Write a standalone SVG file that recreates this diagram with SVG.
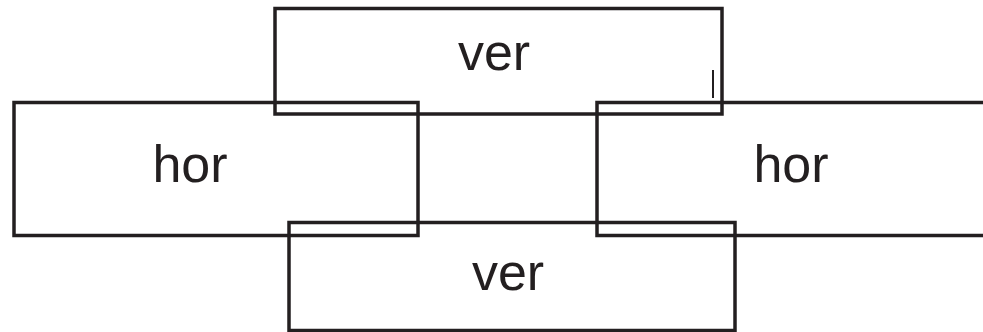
<svg xmlns="http://www.w3.org/2000/svg" width="983" height="332" viewBox="0 0 983 332">
<style>
.box{fill:none;stroke:#231f20;stroke-width:3.5}
.lbl{font-family:"Liberation Sans",Arial,sans-serif;font-size:52px;fill:#231f20;text-anchor:middle}
</style>
<rect width="983" height="332" fill="#ffffff"/>
<g id="ver-top">
<rect class="box" x="275" y="8.5" width="447" height="105.5"/>
<text class="lbl" x="494" y="70">ver</text>
</g>
<g id="hor-left">
<rect class="box" x="14" y="102.5" width="404" height="133"/>
<text class="lbl" x="190" y="182">hor</text>
</g>
<g id="hor-right">
<rect class="box" x="597" y="102.5" width="400" height="133"/>
<text class="lbl" x="791" y="182">hor</text>
</g>
<g id="ver-bottom">
<rect class="box" x="289" y="222.5" width="446" height="108"/>
<text class="lbl" x="508" y="290">ver</text>
</g>
<g id="connectors">
<line x1="713" y1="70" x2="713" y2="98" stroke="#231f20" stroke-width="2"/>
</g>
</svg>
